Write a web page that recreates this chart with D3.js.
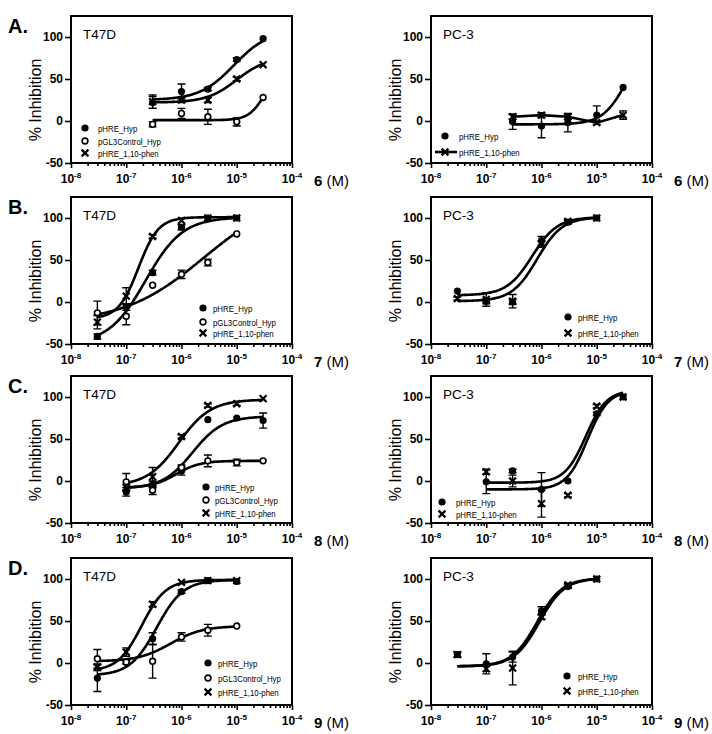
<!DOCTYPE html>
<html><head><meta charset="utf-8">
<script src="https://cdn.jsdelivr.net/npm/d3@7"></script>
<style>body{margin:0;background:#fff} svg{display:block} text{font-family: Arial, "Liberation Sans", sans-serif; fill:#000}</style>
</head><body><svg id="c" width="712" height="734"></svg>
<script>
// ---------- DATA ----------
const rowLetters = ["A.", "B.", "C.", "D."];
const compounds = ["6", "7", "8", "9"];
const cellLines = ["T47D", "PC-3"];
const seriesNames = ["pHRE_Hyp", "pGL3Control_Hyp", "pHRE_1,10-phen"];
const xTickExponents = [-8, -7, -6, -5, -4];
const yTicks = [-50, 0, 50, 100];

const conc6 = [3e-7, 1e-6, 3e-6, 1e-5, 3e-5];
const conc7 = [3e-8, 1e-7, 3e-7, 1e-6, 3e-6, 1e-5];
const conc8 = [1e-7, 3e-7, 1e-6, 3e-6, 1e-5, 3e-5];
const conc9 = [3e-8, 1e-7, 3e-7, 1e-6, 3e-6, 1e-5];

// fit params: [bottom, top, logEC50, hill]
// A. T47D, compound 6
const t47d6Hyp = [22, 35, 38, 73, 98], t47d6HypErr = [7, 9, 2, 2, 1], t47d6HypFit = [25, 108, -5.05, 1.4];
const t47d6Ctrl = [-4, 9, 5, -1, 28], t47d6CtrlErr = [3, 6, 9, 5, 1], t47d6CtrlFit = [1, 60, -4.5, 3];
const t47d6Phen = [23, 25, 25, 50, 67], t47d6PhenErr = [8, 3, 3, 2, 1], t47d6PhenFit = [22, 76, -5.0, 1.6];
// A. PC-3, compound 6
const pc36Hyp = [-1, -6, -2, 7, 40], pc36HypErr = [9, 14, 11, 11, 1], pc36HypFit = [-4, 100, -4.45, 2];
const pc36Phen = [5, 7, 5, -2, 7], pc36PhenErr = [3, 3, 3, 1, 5];
// B. T47D, compound 7
const t47d7Hyp = [-41, -6, 35, 89, 100, 100], t47d7HypErr = [3, 4, 3, 3, 1, 1], t47d7HypFit = [-50, 101, -6.65, 1.3];
const t47d7Ctrl = [-13, -17, 20, 33, 47, 81], t47d7CtrlErr = [14, 10, 1, 5, 4, 1], t47d7CtrlFit = [-25, 130, -5.6, 0.6];
const t47d7Phen = [-24, 7, 78, 97, 100, 100], t47d7PhenErr = [8, 10, 2, 1, 1, 1], t47d7PhenFit = [-20, 101, -6.78, 2.4];
// B. PC-3, compound 7
const pc37Hyp = [13, 1, 0, 73, 95, 100], pc37HypErr = [1, 3, 3, 5, 2, 1], pc37HypFit = [8, 101, -6.17, 1.9];
const pc37Phen = [4, 3, 1, 69, 96, 100], pc37PhenErr = [2, 8, 8, 4, 2, 1], pc37PhenFit = [1, 101, -6.08, 1.9];
// C. T47D, compound 8
const t47d8Hyp = [-13, -4, 12, 73, 75, 72], t47d8HypErr = [5, 4, 5, 1, 1, 9], t47d8HypFit = [-9, 77, -5.8, 1.6];
const t47d8Ctrl = [-1, -11, 16, 24, 22, 24], t47d8CtrlErr = [10, 5, 3, 7, 4, 1], t47d8CtrlFit = [-8, 24, -6.1, 2];
const t47d8Phen = [-8, 5, 53, 90, 92, 98], t47d8PhenErr = [4, 11, 2, 2, 2, 1], t47d8PhenFit = [-6, 97, -6.05, 1.5];
// C. PC-3, compound 8
const pc38Hyp = [-1, 12, -10, 0, 80, 100], pc38HypErr = [14, 2, 20, 1, 2, 1], pc38HypFit = [-2, 108, -5.2, 2.3];
const pc38Phen = [11, 0, -27, -17, 89, 100], pc38PhenErr = [3, 7, 16, 2, 2, 1], pc38PhenFit = [-10, 108, -5.17, 2.3];
// D. T47D, compound 9
const t47d9Hyp = [-18, 1, 29, 85, 98, 97], t47d9HypErr = [16, 2, 7, 2, 1, 1], t47d9HypFit = [-15, 99, -6.45, 1.8];
const t47d9Ctrl = [5, 1, 2, 31, 39, 44], t47d9CtrlErr = [11, 2, 20, 5, 7, 1], t47d9CtrlFit = [2, 44, -6.2, 1.5];
const t47d9Phen = [-5, 13, 70, 96, 98, 98], t47d9PhenErr = [4, 5, 3, 1, 1, 1], t47d9PhenFit = [-10, 99, -6.72, 2];
// D. PC-3, compound 9
const pc39Hyp = [10, -1, 7, 62, 91, 100], pc39HypErr = [3, 12, 6, 5, 2, 1], pc39HypFit = [-4, 101, -6.08, 1.9];
const pc39Phen = [10, -7, -6, 55, 93, 100], pc39PhenErr = [3, 3, 20, 3, 2, 1], pc39PhenFit = [-4, 101, -6.04, 1.9];

// ---------- LAYOUT ----------
const colX = [71, 431], rowY = [16, 197, 376, 558], PW = 221, PH = 147;

const S = (marker, y, err, fit, line) => ({marker, y, err, fit, line: !!line});
const panels = [
  {r:0, c:0, conc:conc6, series:[S('filled',t47d6Hyp,t47d6HypErr,t47d6HypFit), S('open',t47d6Ctrl,t47d6CtrlErr,t47d6CtrlFit), S('x',t47d6Phen,t47d6PhenErr,t47d6PhenFit)],
   legend:{mx:14, tx:27, rows:[112, 125, 137], names:[0,1,2]}},
  {r:0, c:1, conc:conc6, series:[S('filled',pc36Hyp,pc36HypErr,pc36HypFit), S('x',pc36Phen,pc36PhenErr,null,true)],
   legend:{mx:14, tx:28, rows:[120, 136], names:[0,2], lineRow:1}},
  {r:1, c:0, conc:conc7, series:[S('filled',t47d7Hyp,t47d7HypErr,t47d7HypFit), S('open',t47d7Ctrl,t47d7CtrlErr,t47d7CtrlFit), S('x',t47d7Phen,t47d7PhenErr,t47d7PhenFit)],
   legend:{mx:132, tx:142, rows:[111, 125, 136], names:[0,1,2]}},
  {r:1, c:1, conc:conc7, series:[S('filled',pc37Hyp,pc37HypErr,pc37HypFit), S('x',pc37Phen,pc37PhenErr,pc37PhenFit)],
   legend:{mx:137, tx:147, rows:[120, 136], names:[0,2]}},
  {r:2, c:0, conc:conc8, series:[S('filled',t47d8Hyp,t47d8HypErr,t47d8HypFit), S('open',t47d8Ctrl,t47d8CtrlErr,t47d8CtrlFit), S('x',t47d8Phen,t47d8PhenErr,t47d8PhenFit)],
   legend:{mx:135, tx:144, rows:[111, 124, 137], names:[0,1,2]}},
  {r:2, c:1, conc:conc8, series:[S('filled',pc38Hyp,pc38HypErr,pc38HypFit), S('x',pc38Phen,pc38PhenErr,pc38PhenFit)],
   legend:{mx:11, tx:25, rows:[126, 138], names:[0,2]}},
  {r:3, c:0, conc:conc9, series:[S('filled',t47d9Hyp,t47d9HypErr,t47d9HypFit), S('open',t47d9Ctrl,t47d9CtrlErr,t47d9CtrlFit), S('x',t47d9Phen,t47d9PhenErr,t47d9PhenFit)],
   legend:{mx:137, tx:147, rows:[105, 120, 134], names:[0,1,2]}},
  {r:3, c:1, conc:conc9, series:[S('filled',pc39Hyp,pc39HypErr,pc39HypFit), S('x',pc39Phen,pc39PhenErr,pc39PhenFit)],
   legend:{mx:136, tx:147, rows:[118, 133], names:[0,2]}},
];

const svg = d3.select('#c');
const logistic = (p, lx) => p[0] + (p[1] - p[0]) / (1 + Math.pow(10, (p[2] - lx) * p[3]));

function drawMarker(g, type, cx, cy) {
  if (type === 'filled') {
    g.append('circle').attr('cx', cx).attr('cy', cy).attr('r', 3.6).attr('fill', '#000');
  } else if (type === 'open') {
    g.append('circle').attr('cx', cx).attr('cy', cy).attr('r', 2.9).attr('fill', '#fff').attr('stroke', '#000').attr('stroke-width', 1.6);
  } else {
    const s = 3.4;
    g.append('path').attr('d', `M${cx-s},${cy-s}L${cx+s},${cy+s}M${cx-s},${cy+s}L${cx+s},${cy-s}`)
      .attr('stroke', '#000').attr('stroke-width', 2.2).attr('fill', 'none');
  }
}

panels.forEach(p => {
  const x0 = colX[p.c], y0 = rowY[p.r];
  const x = d3.scaleLog().domain([1e-8, 1e-4]).range([x0, x0 + PW]);
  const y = d3.scaleLinear().domain([-50, 125]).range([y0 + PH, y0]);
  const g = svg.append('g');

  // minor x ticks
  const minor = [];
  for (let e = -8; e < -4; e++) for (let m = 2; m <= 9; m++) minor.push(m * Math.pow(10, e));
  const gxm = g.append('g').attr('transform', `translate(0,${y0 + PH})`)
    .call(d3.axisBottom(x).tickValues(minor).tickSize(3).tickFormat(''));
  const gx = g.append('g').attr('transform', `translate(0,${y0 + PH})`)
    .call(d3.axisBottom(x).tickValues(xTickExponents.map(e => Math.pow(10, e))).tickSize(5).tickFormat(''));
  const gy = g.append('g').attr('transform', `translate(${x0},0)`)
    .call(d3.axisLeft(y).tickValues(yTicks).tickSize(6).tickFormat(''));
  [gxm, gx, gy].forEach(a => { a.select('.domain').remove(); a.selectAll('line').attr('stroke', '#000').attr('stroke-width', 1.6); });

  // y tick labels
  yTicks.forEach(t => {
    g.append('text').attr('x', x0 - 8).attr('y', y(t) + 4.2).attr('text-anchor', 'end')
      .attr('font-size', 12).attr('font-weight', 'bold').text(t);
  });
  // x tick labels
  xTickExponents.forEach(e => {
    const t = g.append('text').attr('x', x(Math.pow(10, e))).attr('y', y0 + PH + 20)
      .attr('text-anchor', 'middle').attr('font-size', 12).attr('font-weight', 'bold');
    t.append('tspan').text('10');
    t.append('tspan').attr('dy', -5).attr('font-size', 8).text(String(e));
  });

  // frame
  g.append('rect').attr('x', x0).attr('y', y0).attr('width', PW).attr('height', PH)
    .attr('fill', 'none').attr('stroke', '#000').attr('stroke-width', 2);

  // y title
  g.append('text').attr('transform', `translate(${x0 - 30},${y(25)}) rotate(-90)`)
    .attr('text-anchor', 'middle').attr('font-size', 16).text('% Inhibition');
  // x title
  const xt = g.append('text').attr('x', x0 + PW + 22).attr('y', y0 + PH + 23).attr('font-size', 15);
  xt.append('tspan').attr('font-weight', 'bold').text(compounds[p.r]);
  xt.append('tspan').text(' (M)');
  // cell line label
  g.append('text').attr('x', x0 + 12).attr('y', y0 + 23).attr('font-size', 13.5).text(cellLines[p.c]);
  // row letter
  if (p.c === 0) g.append('text').attr('x', 8).attr('y', y0 + 17).attr('font-size', 20).attr('font-weight', 'bold').text(rowLetters[p.r]);

  // curves
  const line = d3.line().x(d => x(d[0])).y(d => y(d[1]));
  p.series.forEach(s => {
    let pts;
    if (s.fit) {
      const lo = Math.log10(d3.min(p.conc)), hi = Math.log10(d3.max(p.conc));
      pts = d3.range(0, 121).map(i => { const lx = lo + (hi - lo) * i / 120; return [Math.pow(10, lx), logistic(s.fit, lx)]; });
    } else if (s.line) {
      pts = p.conc.map((c, i) => [c, s.y[i]]);
    }
    if (pts) g.append('path').attr('d', line(pts)).attr('fill', 'none').attr('stroke', '#000').attr('stroke-width', 2.6);
  });
  // error bars + markers
  p.series.forEach(s => {
    p.conc.forEach((c, i) => {
      const e = s.err[i];
      if (e >= 2) {
        const cx = x(c);
        g.append('path').attr('d', `M${cx},${y(s.y[i] - e)}V${y(s.y[i] + e)}M${cx - 4},${y(s.y[i] + e)}H${cx + 4}M${cx - 4},${y(s.y[i] - e)}H${cx + 4}`)
          .attr('stroke', '#000').attr('stroke-width', 1.4).attr('fill', 'none');
      }
    });
    p.conc.forEach((c, i) => drawMarker(g, s.marker, x(c), y(s.y[i])));
  });

  // legend
  const L = p.legend;
  L.names.forEach((ni, k) => {
    const cy = y0 + L.rows[k];
    const type = ni === 0 ? 'filled' : ni === 1 ? 'open' : 'x';
    if (L.lineRow === k) {
      g.append('line').attr('x1', x0 + L.mx - 10).attr('x2', x0 + L.mx + 12).attr('y1', cy).attr('y2', cy)
        .attr('stroke', '#000').attr('stroke-width', 2.6);
    }
    drawMarker(g, type, x0 + L.mx, cy);
    g.append('text').attr('transform', `translate(${x0 + L.tx},${cy + 3.5}) scale(0.82,1)`)
      .attr('font-size', 9.6).text(seriesNames[ni]);
  });
});
</script></body></html>
